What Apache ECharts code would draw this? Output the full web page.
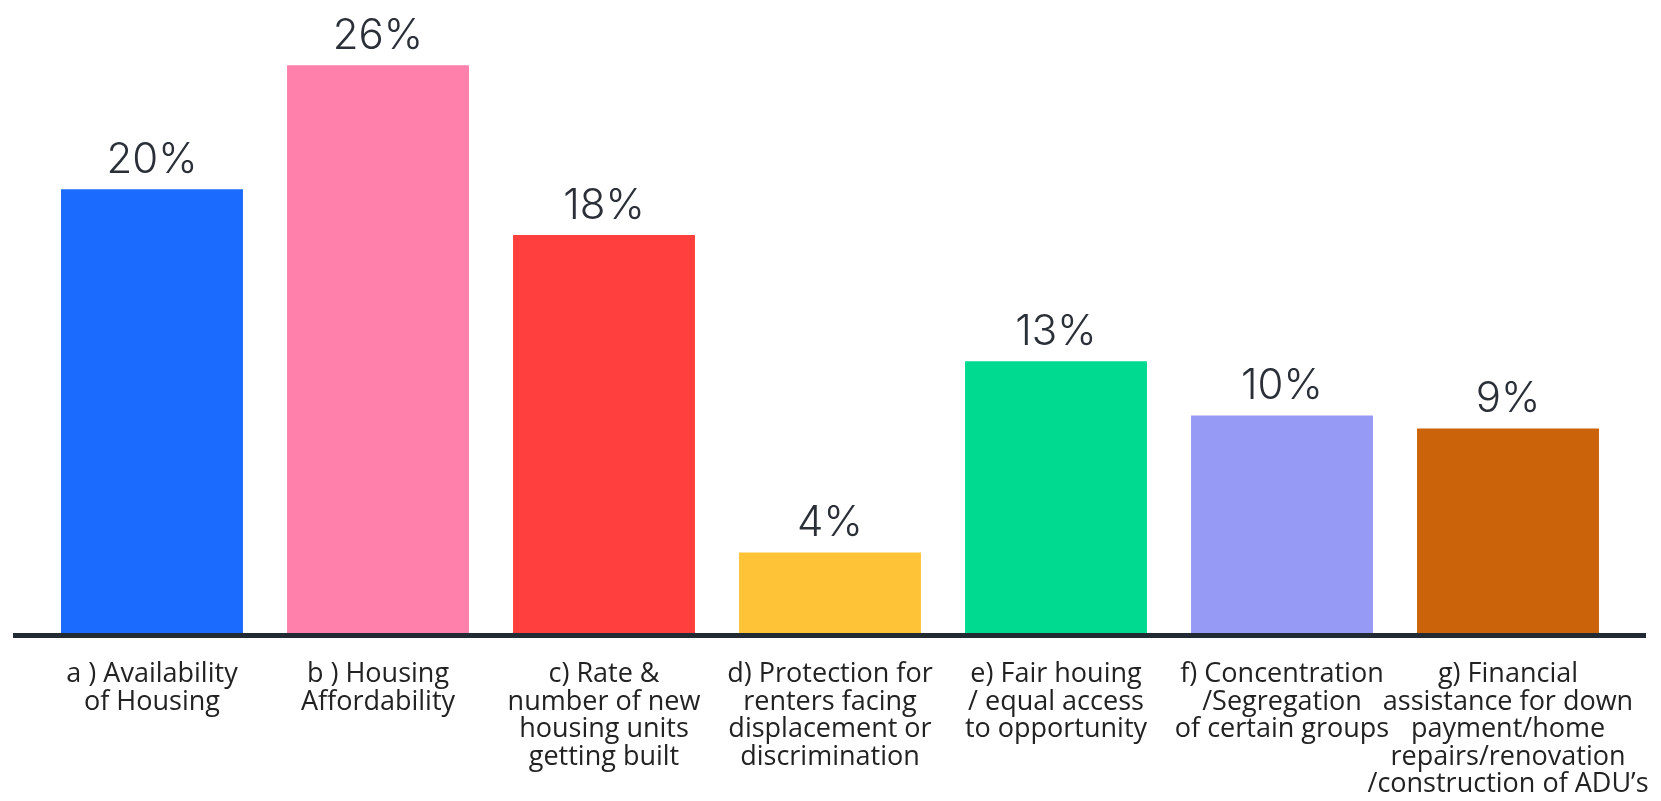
<!DOCTYPE html>
<html>
<head>
<meta charset="utf-8">
<title>Housing priorities</title>
<script src="https://cdn.jsdelivr.net/npm/echarts@6/dist/echarts.min.js"></script>
<style>
  html, body { margin: 0; padding: 0; background: #fff; }
  #box { width: 1661px; height: 801px; }
</style>
</head>
<body>
<div id="box"></div>
<script>
// categories (labels keep the original line breaks)
const categories = [
  'a ) Availability\nof Housing',
  'b ) Housing\nAffordability',
  'c) Rate &\nnumber of new\nhousing units\ngetting built',
  'd) Protection for\nrenters facing\ndisplacement or\ndiscrimination',
  'e) Fair houing\n/ equal access\nto opportunity',
  'f) Concentration\n/Segregation\nof certain groups',
  'g) Financial\nassistance for down\npayment/home\nrepairs/renovation\n/construction of ADU\u2019s'
]
// share of responses, % (labels are rounded)
const shares = [20.4, 26.1, 18.3, 3.7, 12.5, 10.0, 9.4]
const barColors = ['#1b6bff', '#ff80aa', '#ff3e3e', '#fec337', '#00da91', '#979af4', '#cb630b']

const chart = echarts.init(document.getElementById('box'))

const GRID_BOTTOM = 168

const option = {
  backgroundColor: '#ffffff',
  animation: false,
  grid: { left: 39, right: 40, top: 24, bottom: GRID_BOTTOM },
  xAxis: {
    type: 'category',
    data: categories,
    axisLine: { show: false },
    axisTick: { show: false },
    axisLabel: {
      interval: 0,
      margin: 28,
      color: '#222222',
      fontFamily: '"Open Sans", sans-serif',
      fontSize: 27,
      lineHeight: 27.5,
      align: 'center'
    }
  },
  yAxis: {
    type: 'value',
    min: 0,
    max: 28,
    show: false,
    splitLine: { show: false }
  },
  // baseline runs a little wider than the bars' bands
  graphic: [{
    type: 'rect',
    left: 13,
    bottom: GRID_BOTTOM - 5,
    shape: { width: 1633, height: 5 },
    style: { fill: '#222a33' },
    z: 10
  }],
  series: [{
    type: 'bar',
    data: shares.map((v, i) => ({ value: v, itemStyle: { color: barColors[i] } })),
    barCategoryGap: '19.5%',
    label: {
      show: true,
      position: 'top',
      distance: 8,
      formatter: p => Math.round(p.value) + '%',
      color: '#2a2f38',
      fontFamily: 'Inter, sans-serif',
      fontWeight: 300,
      fontSize: 42,
      lineHeight: 42
    }
  }]
}

chart.setOption(option)
</script>
</body>
</html>
